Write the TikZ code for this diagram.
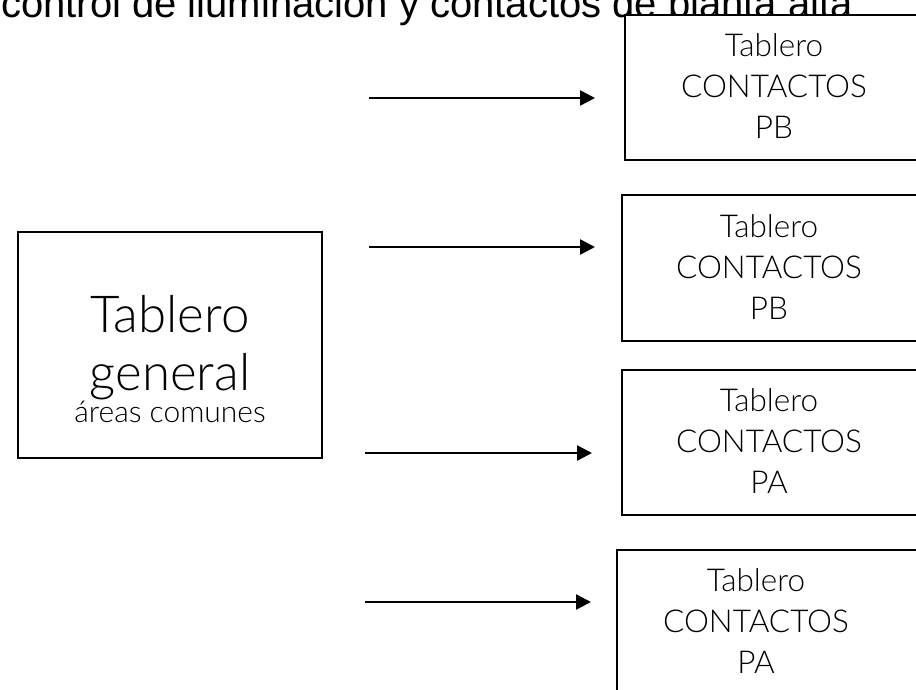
\documentclass[tikz,border=0pt]{standalone}
\usepackage{fontspec}
\setmainfont{Lato}[UprightFont=* Light]
\newfontfamily\titlefont{Liberation Sans}
\usetikzlibrary{arrows.meta}
\begin{document}
\begin{tikzpicture}[x=1pt,y=-1pt,
  boxstyle/.style={draw=black,fill=white,line width=2.2pt,inner sep=0pt,rectangle},
  conn/.style={line width=2.5pt,-{Triangle[length=15pt,width=15pt]}},
  boxtext/.style={align=center,font=\fontsize{31.5}{41}\selectfont,inner sep=0pt},
  bigtext/.style={anchor=base,inner sep=0pt,font=\fontsize{51}{56}\selectfont},
  smalltext/.style={anchor=base,inner sep=0pt,font=\fontsize{30}{32}\selectfont}]
\useasboundingbox (0,0) rectangle (916,690);
\clip (0,0) rectangle (916,690);
% title (partly hidden)
\node[anchor=base west,inner sep=0pt,font=\titlefont\fontsize{40}{46}\selectfont] (title) at (1,18) {control de iluminación y contactos de planta alta};
% general board
\node[boxstyle,minimum width=304pt,minimum height=226pt] (g) at (170,345) {};
\node[bigtext] (gt1) at (170,332) {Tablero};
\node[bigtext] (gt2) at (170,390) {general};
\node[smalltext] (gt3) at (170,422) {áreas comunes};
% right boards
\node[boxstyle,minimum width=310pt,minimum height=145pt] (b1) at (780,87.5) {};
\node[boxstyle,minimum width=313pt,minimum height=146pt] (b2) at (778.5,268) {};
\node[boxstyle,minimum width=313pt,minimum height=145pt] (b3) at (778.5,442.5) {};
\node[boxstyle,minimum width=318pt,minimum height=150pt] (b4) at (776,625) {};
\node[boxtext] (t1) at (774,86.5) {Tablero\\CONTACTOS\\PB};
\node[boxtext] (t2) at (769,267) {Tablero\\CONTACTOS\\PB};
\node[boxtext] (t3) at (769,441.5) {Tablero\\CONTACTOS\\PA};
\node[boxtext] (t4) at (756,621) {Tablero\\CONTACTOS\\PA};
% arrows
\coordinate (a1s) at (369,98);  \coordinate (a1e) at (595,98);
\coordinate (a2s) at (369,247); \coordinate (a2e) at (595,247);
\coordinate (a3s) at (365,453); \coordinate (a3e) at (592,453);
\coordinate (a4s) at (365,602); \coordinate (a4e) at (591,602);
\draw[conn] (a1s) -- (a1e);
\draw[conn] (a2s) -- (a2e);
\draw[conn] (a3s) -- (a3e);
\draw[conn] (a4s) -- (a4e);
\end{tikzpicture}
\end{document}
